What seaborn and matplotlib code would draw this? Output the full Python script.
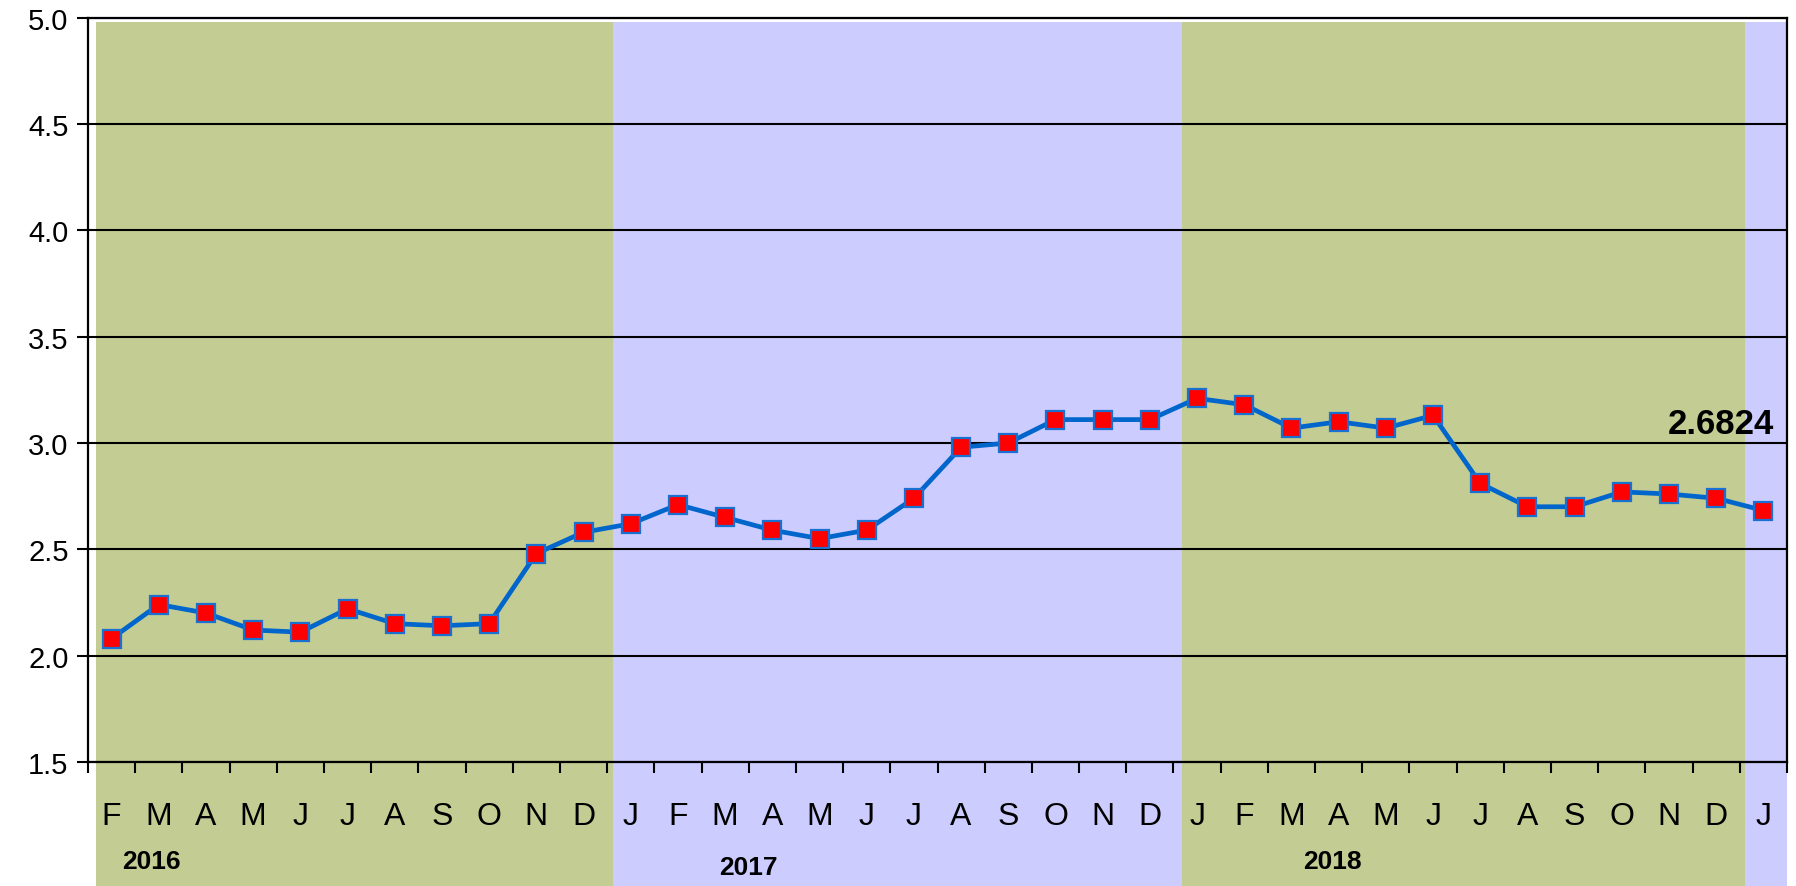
import numpy as np
import pandas as pd
import matplotlib.pyplot as plt
import seaborn as sns

# Monthly values, Feb 2016 - Jan 2019
months = ['F', 'M', 'A', 'M', 'J', 'J', 'A', 'S', 'O', 'N', 'D',
          'J', 'F', 'M', 'A', 'M', 'J', 'J', 'A', 'S', 'O', 'N', 'D',
          'J', 'F', 'M', 'A', 'M', 'J', 'J', 'A', 'S', 'O', 'N', 'D',
          'J']
values = [2.08, 2.24, 2.20, 2.12, 2.11, 2.22, 2.15, 2.14, 2.15, 2.48, 2.58,
          2.62, 2.71, 2.65, 2.59, 2.55, 2.59, 2.74, 2.98, 3.00, 3.11, 3.11, 3.11,
          3.21, 3.18, 3.07, 3.10, 3.07, 3.13, 2.81, 2.70, 2.70, 2.77, 2.76, 2.74,
          2.6824]
years = ['2016', '2017', '2018']
year_pos = [0.85, 13.5, 25.87]
year_y = [-0.133, -0.142, -0.133]
band_edges = [-0.32, 10.62, 22.68, 34.6, 35.5]
band_colors = ['#c3cc93', '#ccccff', '#c3cc93', '#ccccff']
last_label = '2.6824'

df = pd.DataFrame({'idx': np.arange(len(values)), 'value': values})

sns.set_style('white')
plt.rcParams['font.family'] = ['Liberation Sans', 'DejaVu Sans']
plt.rcParams['text.color'] = 'black'
plt.rcParams['xtick.color'] = 'black'
plt.rcParams['ytick.color'] = 'black'

fig = plt.figure(figsize=(17.96, 8.87), dpi=100)
ax = fig.add_axes([0.049, 0.140, 0.946, 0.8387])

# background year bands, running down into the label area
for i in range(len(band_colors)):
    ax.axvspan(band_edges[i], band_edges[i + 1], ymin=-0.17, ymax=0.9946,
               color=band_colors[i], lw=0, zorder=0, clip_on=False)

sns.lineplot(data=df, x='idx', y='value', ax=ax, color='#0066cc', lw=3.4,
             marker='s', markersize=13.5, markerfacecolor='#ff0000',
             markeredgecolor='#1a70d0', markeredgewidth=1.6, zorder=3)

ax.set_xlim(-0.5, 35.5)
ax.set_ylim(1.5, 5.0)
ax.set_yticks(np.arange(1.5, 5.01, 0.5))
ax.set_yticklabels([f'{v:.1f}' for v in np.arange(1.5, 5.01, 0.5)], fontsize=21)
ax.set_xticks(np.arange(len(months)))
ax.set_xticklabels(months, fontsize=23)
ax.set_xticks(np.arange(-0.5, 36, 1), minor=True)
ax.tick_params(axis='x', which='major', length=0, pad=28)
ax.tick_params(axis='x', which='minor', length=8, width=1.5, color='black',
               direction='out', bottom=True)
ax.tick_params(axis='y', length=8, width=1.5, color='black', direction='out',
               pad=6, left=True)

ax.grid(axis='y', color='black', lw=1.5, zorder=1)
ax.grid(axis='x', visible=False)
for s in ['left', 'bottom', 'right', 'top']:
    ax.spines[s].set_color('black')
    ax.spines[s].set_linewidth(1.6)
ax.set_xlabel('')
ax.set_ylabel('')

for y, p, yy in zip(years, year_pos, year_y):
    ax.text(p, yy, y, transform=ax.get_xaxis_transform(), fontsize=19,
            fontweight='bold', ha='center', va='center', color='black')

ax.text(35.22, 3.09, last_label, fontsize=25, fontweight='bold',
        ha='right', va='center', zorder=4, color='black')

fig.savefig('out.png', dpi=100)
